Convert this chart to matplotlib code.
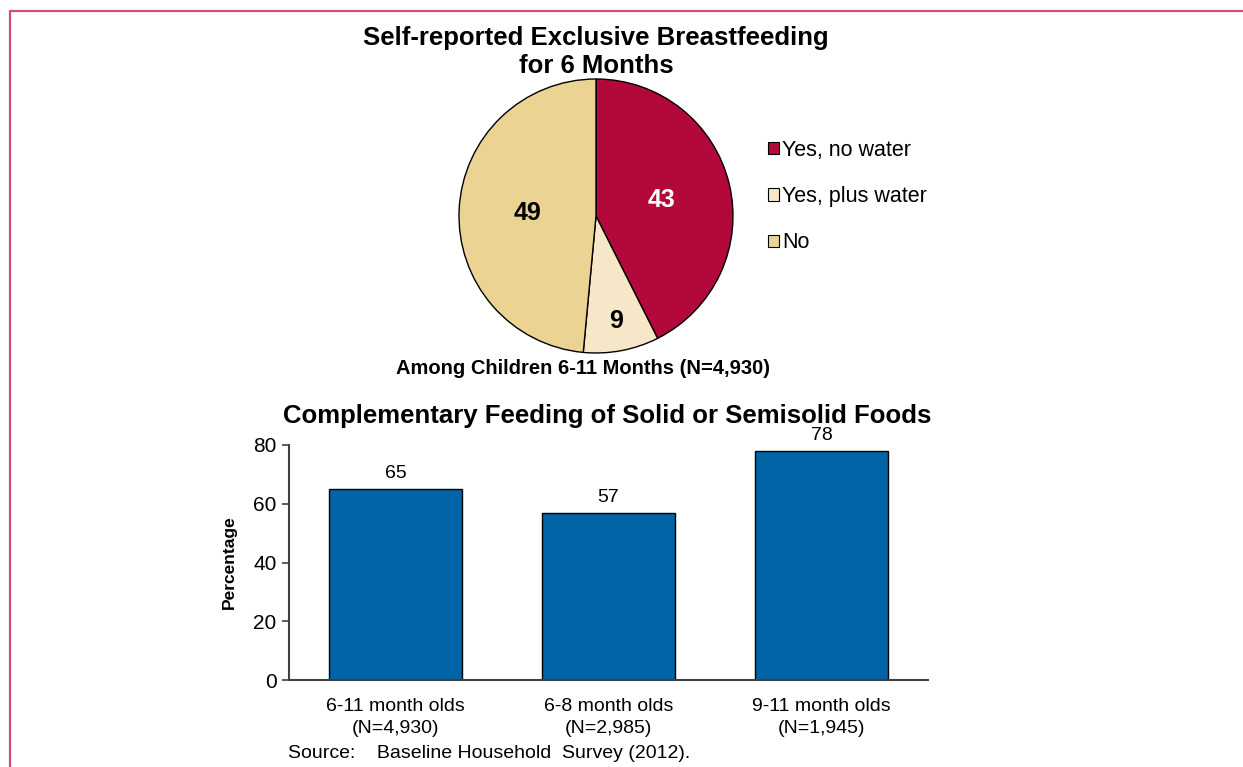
import matplotlib.pyplot as plt
from matplotlib.lines import Line2D
from matplotlib.patches import Patch
import numpy as np

plt.rcParams['font.family'] = ['Liberation Sans', 'DejaVu Sans']

# exclusive breastfeeding shares (%), among children 6-11 months
pie_labels = ["Yes, no water", "Yes, plus water", "No"]
pie_values = [43, 9, 49]
pie_colors = ["#B2093A", "#F6E7C8", "#EBD394"]
pie_text_colors = ["white", "black", "black"]
pie_text_dist = [0.49, 0.78, 0.50]

# complementary feeding by age group (%)
bar_groups = ["6-11 month olds\n(N=4,930)", "6-8 month olds\n(N=2,985)", "9-11 month olds\n(N=1,945)"]
bar_values = [65, 57, 78]
y_ticks = [0, 20, 40, 60, 80]

W, H = 1243, 767
fig = plt.figure(figsize=(W / 100, H / 100), dpi=100)


def px_axes(x0, y0, x1, y1):
    # pixel box (top-left origin) -> figure axes
    return fig.add_axes([x0 / W, 1 - y1 / H, (x1 - x0) / W, (y1 - y0) / H])


# frame line on the left and top
fig.add_artist(Line2D([10 / W, 10 / W, 1.0], [0.0, 1 - 11 / H, 1 - 11 / H],
                      transform=fig.transFigure, color="#D14B72", lw=1.6))

# ---- pie ----
cx, cy, r = 596, 216, 137
ax_pie = px_axes(cx - r, cy - r, cx + r, cy + r)
wedges, _ = ax_pie.pie(pie_values, colors=pie_colors, startangle=90, counterclock=False,
                       wedgeprops=dict(edgecolor="black", linewidth=1.0))
ax_pie.set_xlim(-1, 1)
ax_pie.set_ylim(-1, 1)
ax_pie.set_aspect("auto")
for w, v, c, d in zip(wedges, pie_values, pie_text_colors, pie_text_dist):
    ang = np.deg2rad((w.theta1 + w.theta2) / 2)
    ax_pie.text(d * np.cos(ang), d * np.sin(ang), str(v), color=c, fontsize=18,
                fontweight="bold", ha="center", va="center")

handles = [Patch(facecolor=c, edgecolor="black", linewidth=0.8) for c in pie_colors]
fig.legend(handles, pie_labels, loc="upper left", bbox_to_anchor=(768 / W, 1 - 140 / H),
           frameon=False, fontsize=15.5, handlelength=0.5, handleheight=0.5,
           handletextpad=0.15, labelspacing=1.17, borderaxespad=0, borderpad=0)

fig.text(596 / W, 1 - 52 / H, "Self-reported Exclusive Breastfeeding\nfor 6 Months",
         ha="center", va="center", fontsize=18.5, fontweight="bold", linespacing=1.18)
fig.text(583 / W, 1 - 369 / H, "Among Children 6-11 Months (N=4,930)",
         ha="center", va="center", fontsize=14.5, fontweight="bold")

# ---- bars ----
ax_bar = px_axes(289, 445, 928, 680)
x = np.arange(len(bar_values))
bars = ax_bar.bar(x, bar_values, width=0.625, color="#0064A7", edgecolor="black", linewidth=1.0)
for b, v in zip(bars, bar_values):
    ax_bar.annotate(str(v), (b.get_x() + b.get_width() / 2, v), xytext=(0, 5),
                    textcoords="offset points", ha="center", va="bottom", fontsize=14)
ax_bar.set_xlim(-0.5, len(bar_values) - 0.5)
ax_bar.set_ylim(0, 80)
ax_bar.set_yticks(y_ticks)
ax_bar.set_xticks(x)
ax_bar.set_xticklabels(bar_groups, fontsize=14, linespacing=1.4)
ax_bar.tick_params(axis="x", length=0, pad=13)
ax_bar.tick_params(axis="y", labelsize=15, length=5, width=1.2, color="#404040", pad=4)
for s in ["top", "right"]:
    ax_bar.spines[s].set_visible(False)
for s in ["left", "bottom"]:
    ax_bar.spines[s].set_color("#404040")
    ax_bar.spines[s].set_linewidth(1.5)
ax_bar.set_ylabel("Percentage", fontsize=12.5, fontweight="bold", labelpad=12)

fig.text(607 / W, 1 - 416 / H, "Complementary Feeding of Solid or Semisolid Foods",
         ha="center", va="center", fontsize=18.5, fontweight="bold")
fig.text(288 / W, 1 - 753 / H, "Source:    Baseline Household  Survey (2012).",
         ha="left", va="center", fontsize=14)

fig.savefig("out.png", dpi=100)
